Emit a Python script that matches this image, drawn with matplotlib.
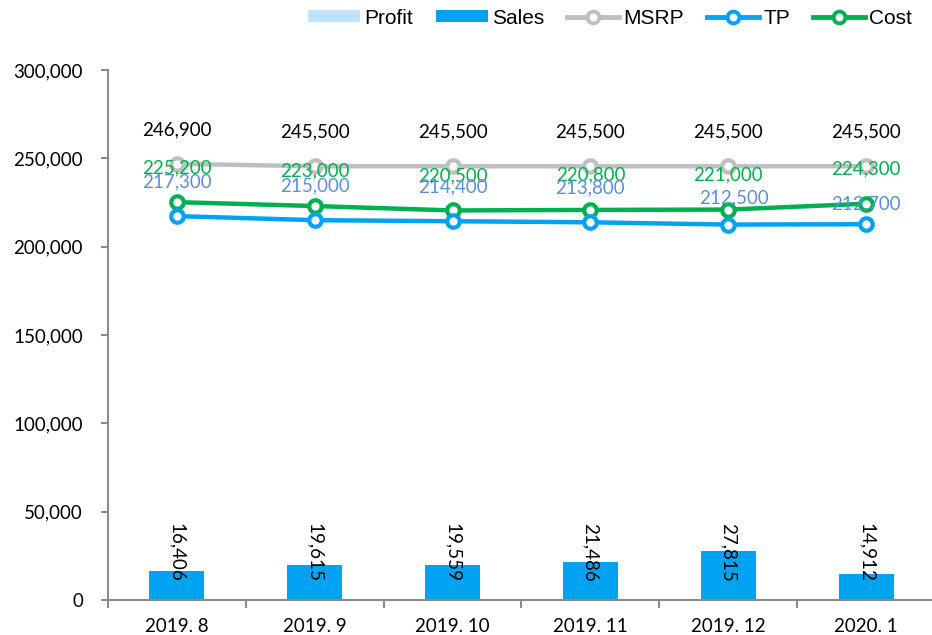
import matplotlib
matplotlib.use("Agg")
import matplotlib.pyplot as plt
from matplotlib.lines import Line2D
from matplotlib.patches import Patch
import numpy as np

categories = ["2019. 8", "2019. 9", "2019. 10", "2019. 11", "2019. 12", "2020. 1"]
sales = [16406, 19615, 19559, 21486, 27815, 14912]
profit = [-1000, -1000, -1000, -1000, -1000, -1000]
msrp = [246900, 245500, 245500, 245500, 245500, 245500]
tp = [217300, 215000, 214400, 213800, 212500, 212700]
cost = [225200, 223000, 220500, 220800, 221000, 224300]
y_ticks = [0, 50000, 100000, 150000, 200000, 250000, 300000]

C_PROFIT = "#BDE3FA"
C_SALES = "#00A2F2"
C_MSRP = "#BFBFBF"
C_TP = "#00A2F5"
C_COST = "#00B050"
C_TPLBL = "#5B8FD9"
AXC = "#8C8C8C"

LBL_FONT = ["Lato", "DejaVu Sans"]
try:
    from matplotlib import font_manager
    font_manager.findfont("Liberation Sans Narrow", fallback_to_default=False)
    LEG_FONT = ["Liberation Sans Narrow", "Liberation Sans"]
except Exception:
    LEG_FONT = ["Liberation Sans"]

fig = plt.figure(figsize=(9.32, 6.35), dpi=100)
ax = fig.add_axes([108 / 932, 1 - 600 / 635, (935 - 108) / 932, (600 - 70) / 635])

x = np.arange(len(categories))
ax.bar(x, profit, width=0.28, color=C_PROFIT, zorder=1)
ax.bar(x, sales, width=0.40, color=C_SALES, zorder=2)

for vals, col in [(msrp, C_MSRP), (cost, C_COST), (tp, C_TP)]:
    ax.plot(x, vals, color=col, lw=3.2, marker="o", markersize=9,
            markerfacecolor="white", markeredgecolor=col, markeredgewidth=3, zorder=4,
            solid_capstyle="round")

# data labels
for i in range(len(x)):
    ax.annotate(f"{msrp[i]:,}", (x[i], msrp[i]), xytext=(0, 24.5), textcoords="offset points",
                ha="center", va="center", fontsize=13.5, family=LBL_FONT, color="black", zorder=6)
    ax.annotate(f"{cost[i]:,}", (x[i], cost[i]), xytext=(0, 25), textcoords="offset points",
                ha="center", va="center", fontsize=13.5, family=LBL_FONT, color=C_COST, zorder=6)
tp_off = [(0, 25), (0, 25), (0, 25), (0, 25), (4.3, 19), (0, 15)]
for i in range(len(x)):
    ax.annotate(f"{tp[i]:,}", (x[i], tp[i]), xytext=tp_off[i], textcoords="offset points",
                ha="center", va="center", fontsize=13.5, family=LBL_FONT, color=C_TPLBL, zorder=6)
    ax.text(x[i] + 0.0, 43600, f"{sales[i]:,}", rotation=270, ha="center", va="top",
            fontsize=13.5, family=LBL_FONT, color="black", zorder=6)

ax.set_xlim(-0.5, len(x) - 0.5)
ax.set_ylim(0, 300000)
ax.set_yticks(y_ticks)
ax.set_yticklabels([f"{v:,}" for v in y_ticks], family=LBL_FONT, fontsize=13.5)
ax.set_xticks(x)
ax.set_xticklabels(categories, family=LBL_FONT, fontsize=13.5)
ax.tick_params(axis="x", length=0, pad=13)
ax.set_xticks(np.arange(-0.5, len(x)), minor=True)
ax.tick_params(axis="x", which="minor", length=6, width=1.5, color=AXC, direction="out")
ax.tick_params(axis="y", length=5, width=1.5, color=AXC, direction="out", pad=13)

for s in ["top", "right"]:
    ax.spines[s].set_visible(False)
for s in ["left", "bottom"]:
    ax.spines[s].set_color(AXC)
    ax.spines[s].set_linewidth(1.5)
ax.patch.set_alpha(0)

handles = [
    Patch(facecolor=C_PROFIT, edgecolor="none"),
    Patch(facecolor=C_SALES, edgecolor="none"),
    Line2D([], [], color=C_MSRP, lw=3.5, marker="o", markersize=8.5, markerfacecolor="white",
           markeredgecolor=C_MSRP, markeredgewidth=2.8),
    Line2D([], [], color=C_TP, lw=3.5, marker="o", markersize=8.5, markerfacecolor="white",
           markeredgecolor=C_TP, markeredgewidth=2.8),
    Line2D([], [], color=C_COST, lw=3.5, marker="o", markersize=8.5, markerfacecolor="white",
           markeredgecolor=C_COST, markeredgewidth=2.8),
]
fig.legend(handles, ["Profit", "Sales", "MSRP", "TP", "Cost"], loc="center right",
           bbox_to_anchor=(912 / 932, 1 - 18 / 635), ncol=5, frameon=False,
           prop={"family": LEG_FONT, "size": 15}, handlelength=2.5, handleheight=0.45,
           handletextpad=0.2, columnspacing=1.1, borderaxespad=0, borderpad=0)

fig.savefig("out.png", dpi=100)
